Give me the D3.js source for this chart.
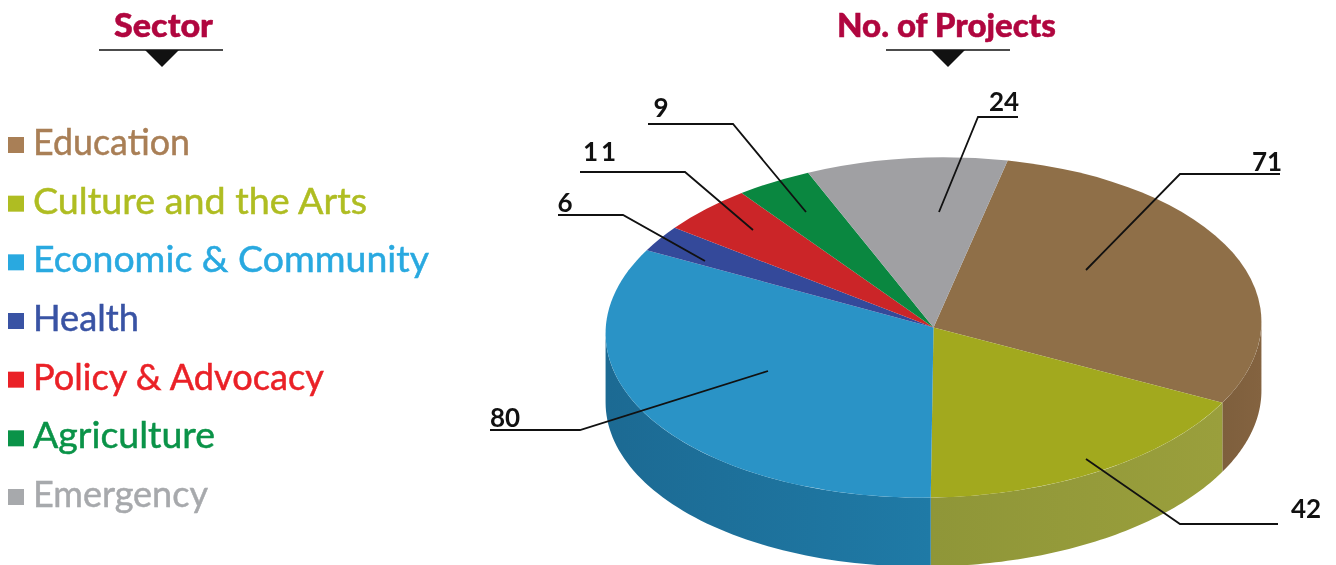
<!DOCTYPE html>
<html><head><meta charset="utf-8">
<script src="https://cdn.jsdelivr.net/npm/d3@7/dist/d3.min.js"></script>
<style>html,body{margin:0;padding:0;background:#fff;overflow:hidden}svg{display:block;filter:blur(0.45px)}text{font-family:Lato,sans-serif}</style>
</head><body><svg id="c" width="1336" height="565"></svg>
<script>
const categories = ["Education","Culture and the Arts","Economic & Community","Health","Policy & Advocacy","Agriculture","Emergency"];
const projects = [71,42,80,6,11,9,24];
const legendColors = ["#a97f56","#afbd22","#29a9e0","#3953a4","#ea2127","#0a9348","#a7a9ac"];
const legendWidths = [157,334,396,106,291,182,175];
const topColors = ["#8f6f48","#a2a91e","#2a93c6","#34499a","#cb2528","#0a8740","#a0a0a3"];
const sideLight = ["#846340","#9a9f3c","#1f7aa6","#2a3c80","#a81e20","#086c33","#808082"];
const sideDark = ["#7e5f3d","#8f9638","#1c6a93","#2a3c80","#a81e20","#086c33","#808082"];
const leaderPaths = [
  [[1086,270],[1180,174],[1280,174]],
  [[1086,459],[1180,524],[1278,524]],
  [[768,371],[580,430],[490,430]],
  [[705,261],[623,215],[558,215]],
  [[753,230],[685,172],[580,172]],
  [[806,212],[733,124],[648,124]],
  [[939,212],[978,117],[1018,117]]
];
const labelPos = [[1267,171],[1306,518],[505,427],[565,212],[601,161],[661,117],[1004,111]];
const titles = [{t:"Sector",x:163.5,w:99,lx:[99,223],tx:162},{t:"No. of Projects",x:946.5,w:219,lx:[886,1010],tx:948}];

const svg = d3.select("#c");
const cx=933.5, cy=327.5, rx=328, ry=170, depth=69, tilt=-1.4;
const start = 13.8*Math.PI/180, th=tilt*Math.PI/180;
const pie = d3.pie().sort(null).startAngle(start).endAngle(start+2*Math.PI)(projects);

// titles
titles.forEach(h=>{
  svg.append("text").attr("x",h.x).attr("y",37).attr("text-anchor","middle")
    .attr("font-size",33).attr("font-weight",900).attr("stroke","#b0063f").attr("stroke-width",0.5)
    .attr("textLength",h.w).attr("lengthAdjust","spacingAndGlyphs")
    .attr("fill","#b0063f").text(h.t);
  svg.append("line").attr("x1",h.lx[0]).attr("x2",h.lx[1]).attr("y1",50).attr("y2",50).attr("stroke","#111").attr("stroke-width",1.4);
  svg.append("path").attr("d",`M${h.tx-17},50L${h.tx+17},50L${h.tx},67Z`).attr("fill","#111");
});

// legend
const ly = d3.scalePoint().domain(categories).range([143,495]);
categories.forEach((c,i)=>{
  svg.append("rect").attr("x",8).attr("y",ly(c)-6).attr("width",16).attr("height",16).attr("fill",legendColors[i]);
  svg.append("text").attr("x",33).attr("y",ly(c)+12).attr("font-size",37.5)
    .attr("textLength",legendWidths[i]).attr("lengthAdjust","spacingAndGlyphs")
    .attr("stroke",legendColors[i]).attr("stroke-width",0.5).attr("fill",legendColors[i]).text(c);
});

// side wall, between the two points where the tilted rim is furthest left and right
const defs = svg.append("defs");
const ex = a=>rx*Math.sin(a), ey = a=>-ry*Math.cos(a);
const px = a=>cx+ex(a)*Math.cos(th)-ey(a)*Math.sin(th);
const py = a=>cy+ex(a)*Math.sin(th)+ey(a)*Math.cos(th);
const wall = svg.append("g");
const lo=Math.atan2(rx*Math.cos(th), ry*Math.sin(th)), hi=lo+Math.PI;
pie.forEach((d,i)=>{
  const pieces=[];
  [0,2*Math.PI].forEach(off=>{
    const a0=Math.max(d.startAngle,lo+off), a1=Math.min(d.endAngle,hi+off);
    if(a1>a0) pieces.push([a0,a1]);
  });
  pieces.forEach(([a0,a1],k)=>{
    const id=`g${i}${k}`;
    const g=defs.append("linearGradient").attr("id",id).attr("gradientUnits","userSpaceOnUse")
      .attr("x1",px(a1)).attr("x2",px(a0)).attr("y1",0).attr("y2",0);
    g.append("stop").attr("offset",0).attr("stop-color",sideDark[i]);
    g.append("stop").attr("offset",1).attr("stop-color",sideLight[i]);
    const arcPts=d3.range(0,61).map(t=>a0+(a1-a0)*t/60);
    const pts=arcPts.map(a=>[px(a),py(a)]).concat(arcPts.slice().reverse().map(a=>[px(a),py(a)+depth]));
    wall.append("path").attr("d",d3.line()(pts)+"Z").attr("fill",`url(#${id})`);
  });
});

// top face
const arc=d3.arc().innerRadius(0).outerRadius(rx);
svg.append("g").attr("transform",`translate(${cx},${cy}) rotate(${tilt}) scale(1,${ry/rx})`)
  .selectAll("path").data(pie).join("path").attr("d",arc).attr("fill",(d,i)=>topColors[i]);

// leaders and values
leaderPaths.forEach((p,i)=>{
  svg.append("path").attr("d",d3.line()(p)).attr("fill","none").attr("stroke","#111").attr("stroke-width",1.8);
  svg.append("text").attr("x",labelPos[i][0]).attr("y",labelPos[i][1]).attr("text-anchor","middle")
    .attr("font-size",26).attr("font-weight",700).attr("fill","#111")
    .attr("letter-spacing",projects[i]===11?3:0).text(projects[i]);
});
</script></body></html>
